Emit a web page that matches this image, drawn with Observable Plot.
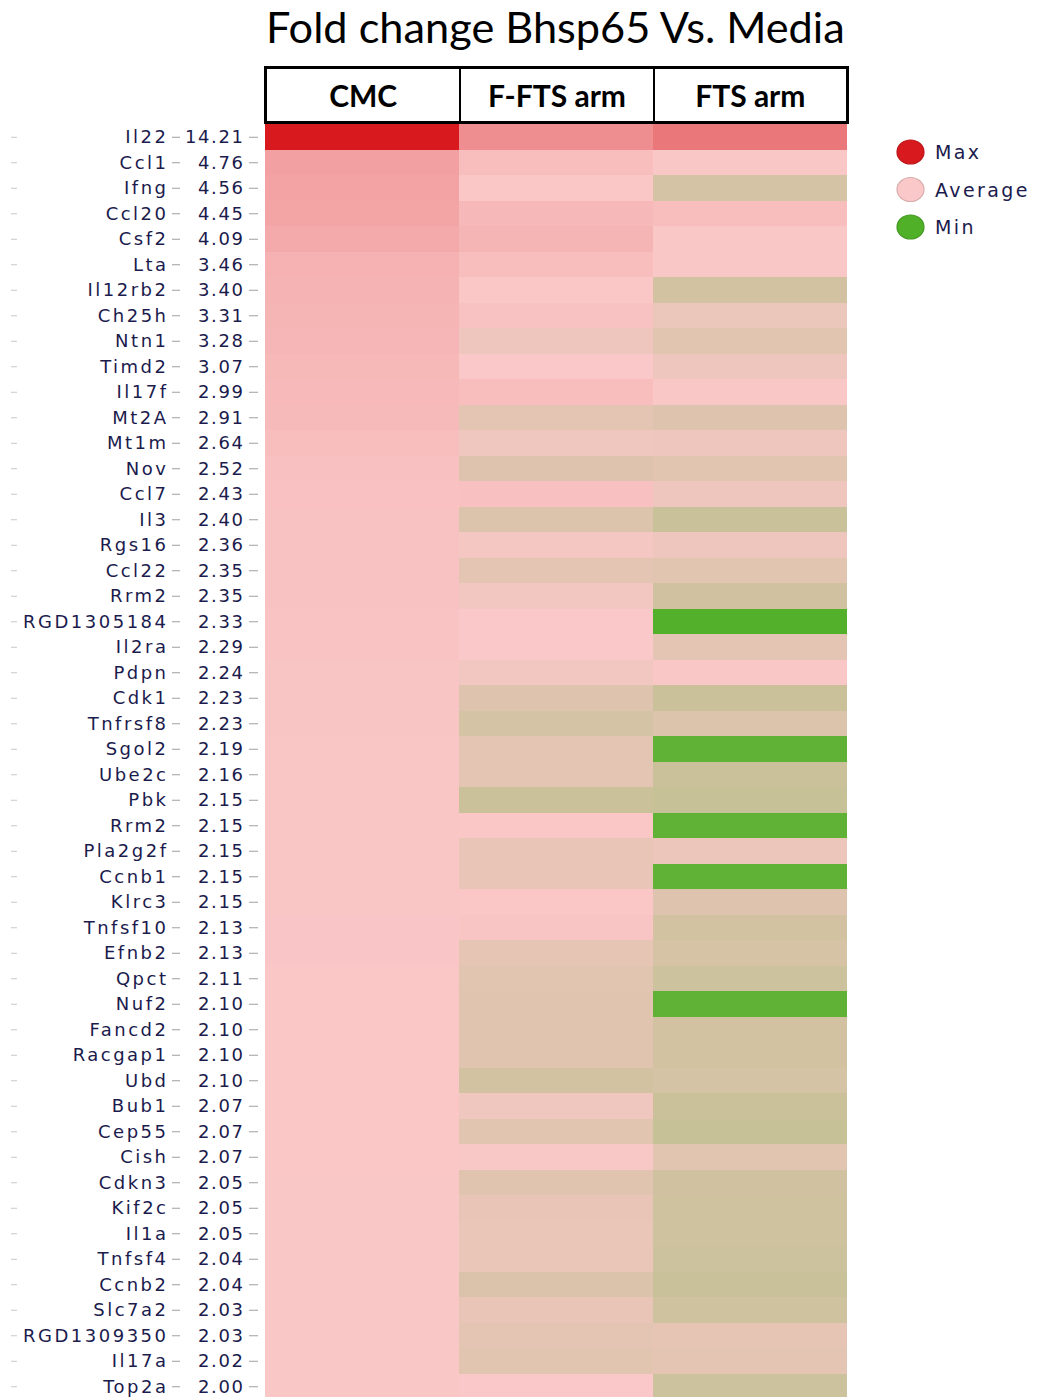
<!DOCTYPE html>
<html><head><meta charset="utf-8">
<script src="https://cdn.jsdelivr.net/npm/d3@7"></script>
<script src="https://cdn.jsdelivr.net/npm/@observablehq/plot@0.6"></script>
<style>
html,body{margin:0;padding:0;background:#fff;}
#wrap{position:relative;width:1040px;height:1397px;overflow:hidden;background:#fff;}
#title{position:absolute;left:266px;top:1px;font-family:Lato,sans-serif;font-size:43.3px;color:#000;white-space:nowrap;line-height:1.2;}
#header{position:absolute;top:66px;height:58px;box-sizing:border-box;border:3px solid #000;display:flex;background:#fff;}
#header div{box-sizing:border-box;height:100%;display:flex;align-items:center;justify-content:center;font-family:Lato,sans-serif;font-weight:bold;font-size:30px;color:#000;}
#chart{position:absolute;left:0;top:124px;}
#legend{position:absolute;left:880px;top:130px;}
</style></head>
<body><div id="wrap"><div id="title">Fold change Bhsp65 Vs. Media</div><div id="header"></div><div id="chart"></div><div id="legend"></div></div>
<script>
const genes = ["Il22","Ccl1","Ifng","Ccl20","Csf2","Lta","Il12rb2","Ch25h","Ntn1","Timd2","Il17f","Mt2A","Mt1m","Nov","Ccl7","Il3","Rgs16","Ccl22","Rrm2","RGD1305184","Il2ra","Pdpn","Cdk1","Tnfrsf8","Sgol2","Ube2c","Pbk","Rrm2","Pla2g2f","Ccnb1","Klrc3","Tnfsf10","Efnb2","Qpct","Nuf2","Fancd2","Racgap1","Ubd","Bub1","Cep55","Cish","Cdkn3","Kif2c","Il1a","Tnfsf4","Ccnb2","Slc7a2","RGD1309350","Il17a","Top2a"];
const cmc = [14.21,4.76,4.56,4.45,4.09,3.46,3.40,3.31,3.28,3.07,2.99,2.91,2.64,2.52,2.43,2.40,2.36,2.35,2.35,2.33,2.29,2.24,2.23,2.23,2.19,2.16,2.15,2.15,2.15,2.15,2.15,2.13,2.13,2.11,2.10,2.10,2.10,2.10,2.07,2.07,2.07,2.05,2.05,2.05,2.04,2.04,2.03,2.03,2.02,2.00];
const fFts = [6.0,2.65,2.1,3.05,3.3,2.65,2.1,2.37,1.39,1.95,2.65,0.92,1.48,0.64,2.5,0.55,1.67,0.92,1.58,1.95,1.95,1.58,0.64,0.17,0.92,0.92,-0.29,2.1,1.11,1.11,2.1,2.25,1.01,0.83,0.73,0.73,0.73,0.08,1.48,0.83,1.86,0.73,1.11,1.2,1.2,0.45,1.11,0.92,0.83,1.95];
const fts = [7.6,2.0,0.17,2.65,2.0,2.0,0.08,1.25,0.83,1.39,2.05,0.64,1.39,0.83,1.39,-0.39,1.39,0.83,-0.01,-5.9,0.92,2.05,-0.29,0.55,-5.25,-0.29,-0.48,-5.25,1.30,-5.25,0.64,0.08,0.26,-0.20,-5.25,0.08,0.08,0.17,-0.29,-0.48,0.83,-0.01,-0.11,-0.11,-0.20,-0.39,-0.11,1.01,0.92,-0.20];
const columns = ["CMC","F-FTS arm","FTS arm"];
const colorDomain = [-6, 1.95, 14.21];
const colorRange = ["#50b028","#fac8c8","#d8191e"];
const legendLabels = ["Max","Average","Min"];

const series = [cmc, fFts, fts];
const cells = [];
genes.forEach((g,i)=>series.forEach((s,j)=>cells.push({row:i, col:columns[j], value:s[i]})));
const rowIdx = genes.map((_,i)=>i);
const textColor = "#1b1b4d";
const axisCommon = {anchor:"left", label:null, marginTop:0, marginBottom:0, marginLeft:265, fontSize:18};

const plot = Plot.plot({
  width:1040, height:1275, marginTop:0, marginBottom:0, marginLeft:265, marginRight:193,
  style:{fontFamily:"'DejaVu Sans',Verdana,sans-serif", fontSize:"18px", background:"transparent"},
  x:{domain:columns, padding:0, round:false, axis:null},
  y:{domain:rowIdx, padding:0, round:false, axis:null, label:null},
  color:{type:"linear", domain:colorDomain, range:colorRange, interpolate:"rgb"},
  marks:[
    Plot.cell(cells,{x:"col",y:"row",fill:"value", shapeRendering:"crispEdges"}),
    Plot.axisY(rowIdx, {...axisCommon, tickSize:9, tickPadding:5, dx:-7, tickFormat:i=>cmc[i].toFixed(2), stroke:"#a0a0a0", fill:textColor}),
    Plot.axisY(rowIdx, {...axisCommon, tickSize:8, tickPadding:4, dx:-85, tickFormat:i=>genes[i], stroke:"#a0a0a0", fill:textColor}),
    Plot.axisY(rowIdx, {...axisCommon, tickSize:6, dx:-248, tickFormat:()=>"", stroke:"#c8c8c8"})
  ]
});
document.getElementById("chart").appendChild(plot);

const labelGroups = d3.select(plot).selectAll('g[aria-label="y-axis tick label"]').nodes();
if (labelGroups[0]) d3.select(labelGroups[0]).style("letter-spacing","1.6px");
if (labelGroups[1]) d3.select(labelGroups[1]).style("letter-spacing","2.5px");

// header aligned to the x scale
const xs = plot.scale("x");
const bw = xs.bandwidth;
const x0 = xs.apply(columns[0]);
const header = document.getElementById("header");
header.style.left = (x0 - 1) + "px";
header.style.width = (bw*columns.length + 3) + "px";
columns.forEach((c,j)=>{
  const d = document.createElement("div");
  d.textContent = c;
  d.style.width = (j===0 ? bw - 1 : bw) + "px";
  if (j>0) d.style.borderLeft = "2px solid #000";
  header.appendChild(d);
});

// legend
const cs = plot.scale("color");
const legendVals = [colorDomain[2], colorDomain[1], colorDomain[0]];
const lsvg = d3.select("#legend").append("svg").attr("width",160).attr("height",120);
legendVals.forEach((v,i)=>{
  const col = cs.apply(v);
  const cy = 22 + i*37.5;
  lsvg.append("ellipse").attr("cx",30.5).attr("cy",cy).attr("rx",13.5).attr("ry",12)
    .attr("fill",col).attr("stroke",d3.color(col).darker(0.4)).attr("stroke-width",1.2);
  lsvg.append("text").attr("x",55).attr("y",cy+7).text(legendLabels[i])
    .attr("font-family","'DejaVu Sans',Verdana,sans-serif").attr("font-size",19)
    .attr("letter-spacing","2.4px").attr("fill",textColor);
});
</script></body></html>
